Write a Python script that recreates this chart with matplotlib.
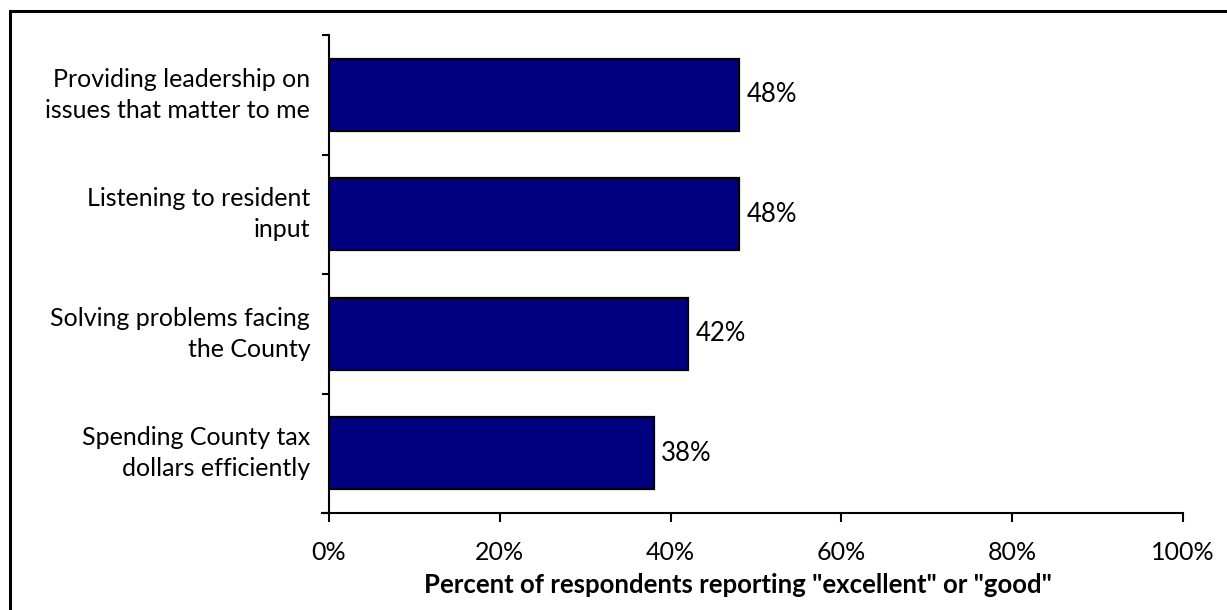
import matplotlib.pyplot as plt
from matplotlib.patches import Rectangle
from matplotlib.ticker import FuncFormatter

categories = [
    "Providing leadership on\nissues that matter to me",
    "Listening to resident\ninput",
    "Solving problems facing\nthe County",
    "Spending County tax\ndollars efficiently",
]
values = [48, 48, 42, 38]
x_ticks = [0, 20, 40, 60, 80, 100]

plt.rcParams['font.family'] = ['Lato', 'DejaVu Sans']
FS = 18

W, H = 1227, 610
fig = plt.figure(figsize=(W / 100, H / 100), dpi=100)

# frame around the whole chart (runs off the right and bottom edges)
fig.patches.append(Rectangle((10 / W, -0.05), 1.2, (H - 11) / H + 0.05,
                             transform=fig.transFigure, fill=False,
                             edgecolor='black', linewidth=2.2))

ax = fig.add_axes([329 / W, (H - 513) / H, (1183 - 329) / W, (513 - 35) / H])

n = len(categories)
ypos = list(range(n))[::-1]
ax.barh(ypos, values, height=0.6, color='#000080', edgecolor='black', linewidth=1.6)

for y, v in zip(ypos, values):
    ax.text(v + 0.9, y, f"{v}%", va='center', ha='left', fontsize=FS + 0.5)

ax.set_xlim(0, 100)
ax.set_ylim(-0.5, n - 0.5)
ax.set_xticks(x_ticks)
ax.xaxis.set_major_formatter(FuncFormatter(lambda v, p: f"{v:.0f}%"))

# category ticks sit on the boundaries between bars
ax.set_yticks([y - 0.5 for y in range(n + 1)])
ax.set_yticklabels([])
for y, lab in zip(ypos, categories):
    ax.text(-2.2, y, lab, ha='right', va='center', fontsize=FS,
            linespacing=1.42, transform=ax.transData)

for s in ['top', 'right']:
    ax.spines[s].set_visible(False)
ax.spines['left'].set_linewidth(1.5)
ax.spines['bottom'].set_linewidth(1.5)
ax.spines['bottom'].set_bounds(-0.8, 100)
ax.tick_params(axis='x', direction='out', length=6.5, width=1.5, labelsize=FS, pad=13.5)
ax.tick_params(axis='y', direction='out', length=5, width=1.5)

ax.set_xlabel('Percent of respondents reporting "excellent" or "good"',
              fontsize=FS + 0.5, fontweight='bold')
ax.xaxis.set_label_coords(0.479, -0.125)

fig.savefig('out.png', dpi=100)
